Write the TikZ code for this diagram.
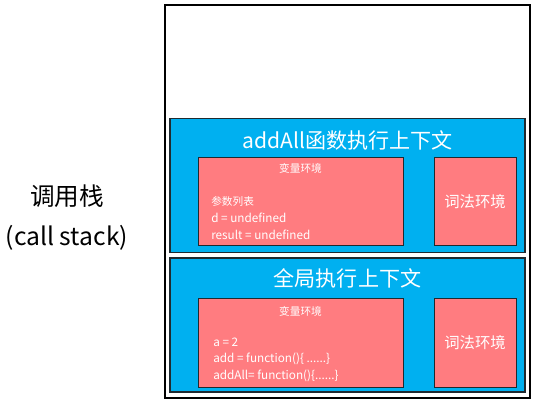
\documentclass[tikz,border=0pt]{standalone}
\usepackage{fontspec}
\usepackage{tikz}
\usetikzlibrary{positioning, calc}
\newfontfamily\cjk{Noto Sans CJK SC}
\definecolor{stackdark}{HTML}{1F2A30}
\definecolor{ctxblue}{HTML}{00B0F0}
\definecolor{envred}{HTML}{FF7C80}
\tikzset{
  stackframe/.style={draw=black, line width=2pt, fill=white, inner sep=0pt},
  ctxbox/.style={draw=stackdark, line width=1.2pt, fill=ctxblue, inner sep=0pt,
                 minimum width=266.25pt, minimum height=100.75pt},
  envbox/.style={draw=stackdark, line width=0.7pt, fill=envred, inner sep=0pt,
                 minimum height=66.5pt},
  ctxtitle/.style={font=\cjk\fontsize{15.8}{17}\selectfont, text=white},
  envtitle/.style={font=\cjk\fontsize{8}{9}\selectfont, text=white},
  lexlbl/.style={font=\cjk\fontsize{11.5}{13}\selectfont, text=white},
  item/.style={font=\cjk\fontsize{8.8}{10}\selectfont, text=white, anchor=west, inner sep=0pt},
  stacklbl/.style={font=\cjk\fontsize{18.5}{20}\selectfont, text=black},
}
\begin{document}
\begin{tikzpicture}[x=0.75pt, y=-0.75pt]
  \fill[white] (0,0) rectangle (534,404);
  \useasboundingbox (0,0) rectangle (534,404);

  % call stack frame
  \node[stackframe, minimum width=273.75pt, minimum height=294.75pt] (stack) at (347.5,201.5) {};
  \node[stacklbl] (stackcn) at (67,196) {调用栈};
  \node[stacklbl] (stacken) at (67,238) {(call stack)};

  % addAll context
  \node[ctxbox] (fnctx) at (347.5,185.5) {};
  \node[ctxtitle] (fntitle) at (347.5,140) {addAll函数执行上下文};
  \node[envbox, minimum width=153.75pt] (fnvar) at (300.5,201.5) {};
  \node[envbox, minimum width=61.5pt] (fnlex) at (475,201.5) {};
  \node[envtitle] (fnvartitle) at (300.5,168) {变量环境};
  \node[lexlbl] at (fnlex) {词法环境};
  \node[item, font=\cjk\fontsize{8}{9}\selectfont] (fnargs) at (211,201) {参数列表};
  \node[item] (fnd) at (211,218) {d = undefined};
  \node[item] (fnres) at (211,235) {result = undefined};

  % global context
  \node[ctxbox] (glctx) at (347.5,325) {};
  \node[ctxtitle] (gltitle) at (347.5,278) {全局执行上下文};
  \node[envbox, minimum width=153.75pt] (glvar) at (300.5,343) {};
  \node[envbox, minimum width=61.5pt] (gllex) at (475,343) {};
  \node[envtitle] (glvartitle) at (300.5,311) {变量环境};
  \node[lexlbl] at (gllex) {词法环境};
  \node[item] (gla) at (213,342) {a = 2};
  \node[item] (gladd) at (213,359) {add = function()\{ ......\}};
  \node[item] (gladdall) at (213,376) {addAll= function()\{......\}};
\end{tikzpicture}
\end{document}
